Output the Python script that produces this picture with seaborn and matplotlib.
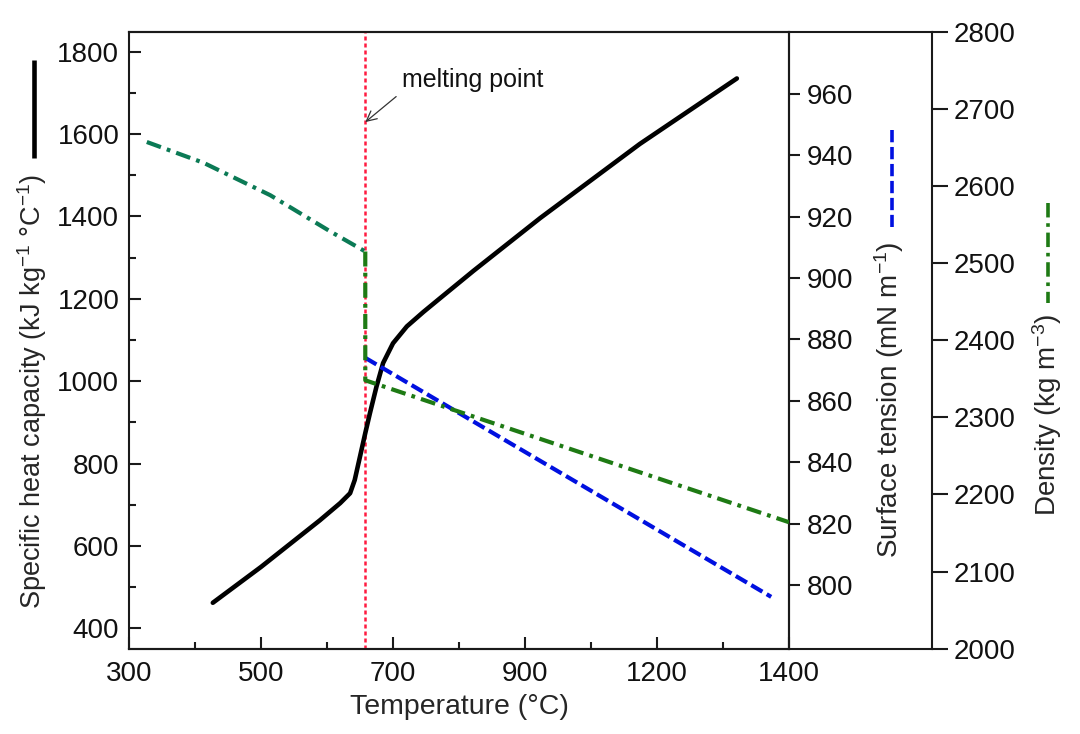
import numpy as np
import pandas as pd
import matplotlib
matplotlib.use('Agg')
import matplotlib.pyplot as plt
from matplotlib.lines import Line2D
import seaborn as sns

# --- data (x in axis units: 200 per major tick) ---
T_cp = [427, 500, 589, 620, 635, 642, 650, 658, 665, 675, 685, 700, 721, 746, 771, 822,
        923, 1074, 1221]
cp = [462, 549, 662, 704, 728, 760, 817, 874, 922, 987, 1044, 1092, 1133, 1168, 1201, 1268,
      1396, 1576, 1735]

T_st = [658, 1273]
st = [874.0, 796.1]

T_rho_solid = [327, 413, 514, 605, 658]
rho_solid = [2657, 2630, 2588, 2541, 2515]
T_rho_liquid = [658, 658, 1300]
rho_liquid = [2515, 2348, 2164]

T_melt = 658

x_ticks = [300, 500, 700, 900, 1100, 1300]
x_ticklabels = ['300', '500', '700', '900', '1200', '1400']

sns.set_style('ticks')
plt.rcParams['font.family'] = ['Liberation Sans', 'DejaVu Sans']
plt.rcParams['mathtext.fontset'] = 'custom'
plt.rcParams['mathtext.rm'] = 'Liberation Sans'
plt.rcParams['mathtext.default'] = 'regular'
plt.rcParams['axes.linewidth'] = 1.5
plt.rcParams['axes.edgecolor'] = '#1a1a1a'
plt.rcParams['text.color'] = '#111111'
plt.rcParams['xtick.color'] = '#1a1a1a'
plt.rcParams['ytick.color'] = '#1a1a1a'
plt.rcParams['xtick.labelcolor'] = '#111111'
plt.rcParams['ytick.labelcolor'] = '#111111'

FS = 20
W, H = 1080, 734
fig = plt.figure(figsize=(W / 100, H / 100), dpi=100)

L, R, TOP, BOT, R3 = 129, 789, 31.7, 648.7, 932
rect = [L / W, (H - BOT) / H, (R - L) / W, (BOT - TOP) / H]

# outer frame that carries top/bottom lines out to the density axis
frame = fig.add_axes([L / W, (H - BOT) / H, (R3 - L) / W, (BOT - TOP) / H], zorder=-1)
frame.set_xticks([]); frame.set_yticks([])
for s in ['left', 'right']:
    frame.spines[s].set_visible(False)
frame.patch.set_alpha(0)

ax = fig.add_axes(rect)
ax.patch.set_alpha(0)
ax2 = ax.twinx()
ax3 = ax.twinx()

DASHDOT = (0, (3.6, 1.5, 0.9, 1.5))

# specific heat
sns.lineplot(x=T_cp, y=cp, ax=ax, color='black', lw=3.3, estimator=None, sort=False)
# surface tension
sns.lineplot(x=T_st, y=st, ax=ax2, color='#0010e0', lw=3.0, estimator=None, sort=False,
             linestyle=(0, (3.1, 1.2)))
# density
sns.lineplot(x=T_rho_solid, y=rho_solid, ax=ax3, color='#0b7a55', lw=3.0, estimator=None,
             sort=False, linestyle=DASHDOT)
sns.lineplot(x=T_rho_liquid, y=rho_liquid, ax=ax3, color='#1e7a14', lw=3.0, estimator=None,
             sort=False, linestyle=DASHDOT)

ax.axvline(T_melt, color='#ff1a40', lw=1.8, linestyle=(0, (1.6, 1.2)), zorder=1)

ax.set_xlim(300, 1300)
ax.set_ylim(350.5, 1848.5)
ax2.set_ylim(779.2, 980.3)
ax3.set_ylim(2000, 2800)

ax.set_xticks(x_ticks)
ax.set_xticklabels(x_ticklabels)
ax.set_xticks([400, 600, 800, 1000, 1200], minor=True)
ax.set_yticks(range(400, 1801, 200))
ax.set_yticks(range(500, 1800, 200), minor=True)
ax2.set_yticks(range(800, 961, 20))
ax3.set_yticks(range(2000, 2801, 100))

ax.tick_params(which='major', direction='in', length=8.6, width=1.5, labelsize=FS)
ax.tick_params(which='minor', direction='in', length=5, width=1.5)
ax.tick_params(axis='x', pad=9)
ax.tick_params(axis='y', pad=7)
ax2.tick_params(direction='out', length=8, width=1.5, labelsize=FS, pad=5)
ax3.tick_params(direction='out', length=11.5, width=1.5, labelsize=FS, pad=4)

for a in (ax2, ax3):
    for s in ['top', 'bottom', 'left']:
        a.spines[s].set_visible(False)
ax3.spines['right'].set_position(('axes', (R3 - L) / (R - L)))

ax.set_xlabel('Temperature (°C)', fontsize=20.5, va='center')
ax.xaxis.set_label_coords(0.5, (BOT - 707) / (BOT - TOP))
ax.set_ylabel('Specific heat capacity (kJ kg$^{-1}$ °C$^{-1}$)', fontsize=19.5, va='center')
ax.yaxis.set_label_coords((32 - L) / (R - L), (BOT - 391.5) / (BOT - TOP))
ax2.set_ylabel('Surface tension (mN m$^{-1}$)', fontsize=20, va='center', rotation=90)
ax2.yaxis.set_label_coords((889 - L) / (R - L), (BOT - 400) / (BOT - TOP))
ax3.set_ylabel('Density (kg m$^{-3}$)', fontsize=20, va='center', rotation=90)
ax3.yaxis.set_label_coords((1047 - L) / (R - L), (BOT - 415) / (BOT - TOP))

ax.annotate('melting point', xy=(T_melt, 1629), xytext=(713, 1731), fontsize=18,
            ha='left', va='center',
            arrowprops=dict(arrowstyle='->', lw=0.9, color='#333333', relpos=(0, 0),
                            shrinkA=2, shrinkB=0))

# short line keys beside the axis titles
def key(x, y0, y1, **kw):
    fig.add_artist(Line2D([x / W, x / W], [1 - y0 / H, 1 - y1 / H], **kw))

key(34, 60, 158, color='black', lw=3.3, solid_capstyle='butt')
key(892, 130, 227, color='#0010e0', lw=2.6, linestyle=(0, (3.4, 1.3)))
key(1048, 203, 303, color='#1e7a14', lw=2.6, linestyle=(0, (4.0, 1.6, 1.0, 1.6)))

fig.savefig('out.png', dpi=100)
